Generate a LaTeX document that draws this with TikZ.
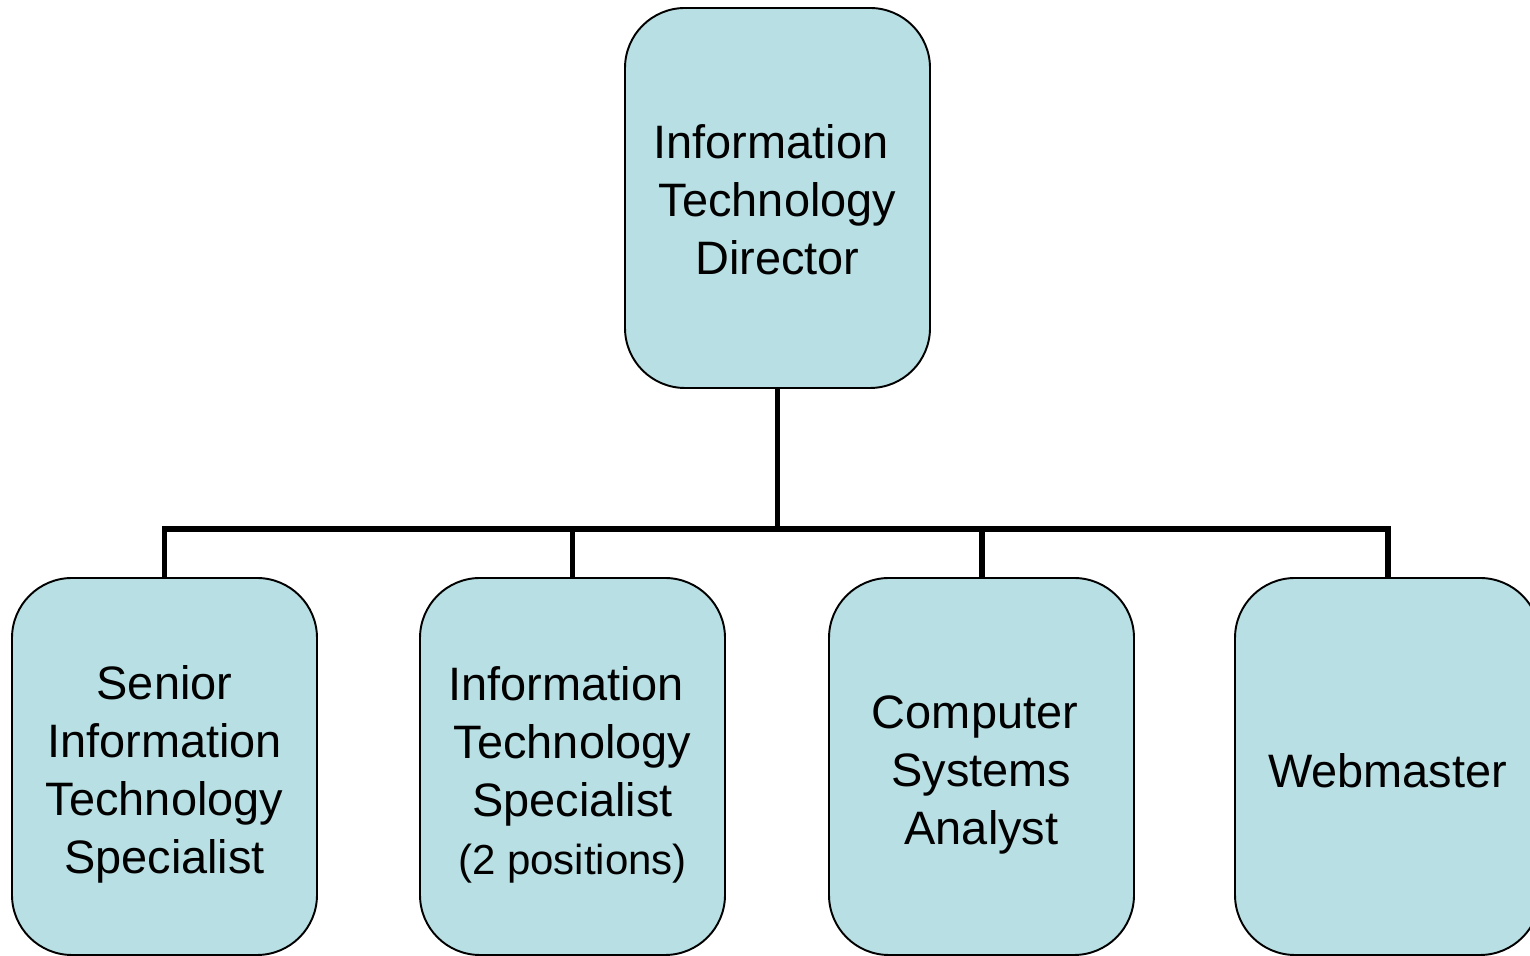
\documentclass[tikz,border=0pt]{standalone}
\usepackage{fontspec}
\setmainfont{Liberation Sans}
\definecolor{boxblue}{HTML}{B8DFE3}
\newcommand{\toppad}[1]{\rule{0pt}{#1}}
\begin{document}
\begin{tikzpicture}[
  jobbox/.style={draw, line width=1.1pt, fill=boxblue, rounded corners=1.2cm,
    minimum width=6.1cm, align=center, inner sep=0pt,
    font=\fontsize{26.7}{33}\selectfont},
  staffbox/.style={jobbox, minimum height=7.54cm},
  conn/.style={line width=3.4pt}]
\useasboundingbox (0,0) rectangle (30.6,19.12);
\clip (0,0) rectangle (30.6,19.12);
\node[jobbox, minimum height=7.6cm] (dir) at (15.55,15.16) {\toppad{21pt}Information\ \kern0pt\\Technology\\Director};
\node[staffbox] (senior) at (3.29,3.79) {\toppad{28.6pt}Senior\\Information\\Technology\\Specialist};
\node[staffbox] (its) at (11.45,3.79) {\toppad{28.6pt}Information\ \kern0pt\\Technology\\Specialist\\{\fontsize{23.9}{30}\selectfont (2 positions)}};
\node[staffbox] (csa) at (19.63,3.79) {\toppad{28.6pt}Computer\ \kern0pt\\Systems\\Analyst};
\node[staffbox] (web) at (27.75,3.79) {\toppad{24pt}Webmaster};
\coordinate (bus) at (15.55,8.54);
\draw[conn] (dir.south) -- (bus);
\draw[conn] (senior.north) |- (bus) -| (web.north);
\draw[conn] (its.north) -- (its.north |- bus);
\draw[conn] (csa.north) -- (csa.north |- bus);
\end{tikzpicture}
\end{document}
